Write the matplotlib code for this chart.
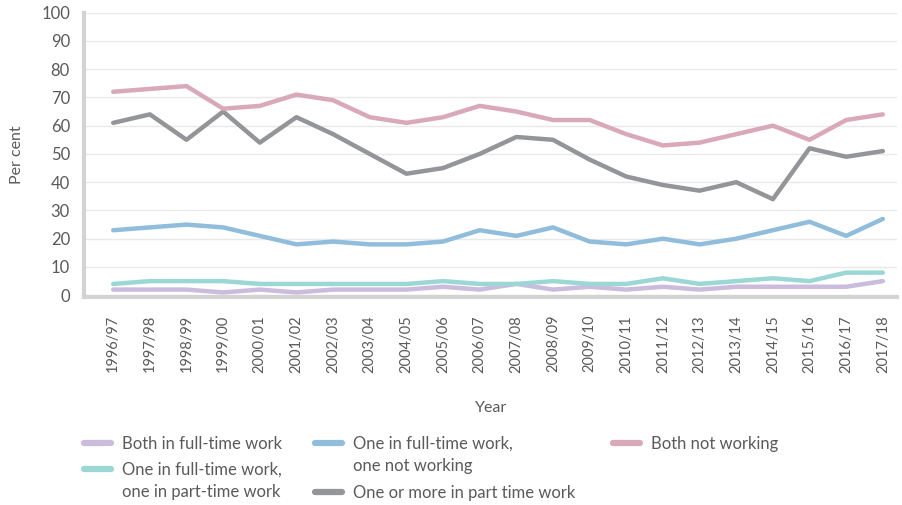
import matplotlib.pyplot as plt
from matplotlib.lines import Line2D

plt.rcParams['font.family'] = ['Lato', 'DejaVu Sans']

years = ['1996/97', '1997/98', '1998/99', '1999/00', '2000/01', '2001/02', '2002/03',
         '2003/04', '2004/05', '2005/06', '2006/07', '2007/08', '2008/09', '2009/10',
         '2010/11', '2011/12', '2012/13', '2013/14', '2014/15', '2015/16', '2016/17',
         '2017/18']
both_full = [2, 2, 2, 1, 2, 1, 2, 2, 2, 3, 2, 4, 2, 3, 2, 3, 2, 3, 3, 3, 3, 5]
full_part = [4, 5, 5, 5, 4, 4, 4, 4, 4, 5, 4, 4, 5, 4, 4, 6, 4, 5, 6, 5, 8, 8]
full_none = [23, 24, 25, 24, 21, 18, 19, 18, 18, 19, 23, 21, 24, 19, 18, 20, 18, 20, 23, 26, 21, 27]
part_time = [61, 64, 55, 65, 54, 63, 57, 50, 43, 45, 50, 56, 55, 48, 42, 39, 37, 40, 34, 52, 49, 51]
not_working = [72, 73, 74, 66, 67, 71, 69, 63, 61, 63, 67, 65, 62, 62, 57, 53, 54, 57, 60, 55, 62, 64]

series = [
    ('Both in full-time work', both_full, '#cbbbdd'),
    ('One in full-time work,\none in part-time work', full_part, '#9ad7d5'),
    ('One in full-time work,\none not working', full_none, '#8fbddb'),
    ('One or more in part time work', part_time, '#949598'),
    ('Both not working', not_working, '#d9a8b9'),
]

txt = '#5a5a5a'
fig = plt.figure(figsize=(9.02, 5.05), dpi=100)
ax = fig.add_axes([0.093, 0.412, 0.902, 0.563])

x = list(range(len(years)))
for label, vals, col in series:
    ax.plot(x, vals, color=col, lw=3.2, solid_capstyle='round', solid_joinstyle='round')

ax.set_xlim(-0.8, 21.4)
ax.set_ylim(-0.6, 100)
ax.set_yticks(range(0, 101, 10))
ax.set_xticks(x)
ax.set_xticklabels(years, rotation=90, fontsize=10.5, color=txt)
ax.tick_params(axis='y', labelsize=12, colors=txt, length=0, pad=10)
ax.tick_params(axis='x', length=0, pad=13)
ax.grid(axis='y', color='#e9e9e9', lw=1)
ax.set_axisbelow(True)
for s in ['top', 'right']:
    ax.spines[s].set_visible(False)
for s in ['left', 'bottom']:
    ax.spines[s].set_color('#d3d3d3')
    ax.spines[s].set_linewidth(3)
ax.set_ylabel('Per cent', fontsize=11.5, color=txt, labelpad=12)
ax.set_xlabel('Year', fontsize=11.5, color=txt, labelpad=20)

# legend drawn by hand so the handle sits on the first text line
rows = [443, 469, 443, 492, 443]
cols = [84, 84, 315, 315, 613]
for (label, vals, col), px, py in zip(series, cols, rows):
    fy = 1 - py / 505
    fig.add_artist(Line2D([px / 902, (px + 27) / 902], [fy, fy], color=col, lw=4.5,
                          solid_capstyle='round', transform=fig.transFigure))
    fig.text((px + 38) / 902, fy + 7 / 505, label, fontsize=12, color=txt, va='top',
             linespacing=1.45, transform=fig.transFigure)

fig.savefig('out.png', dpi=100)
